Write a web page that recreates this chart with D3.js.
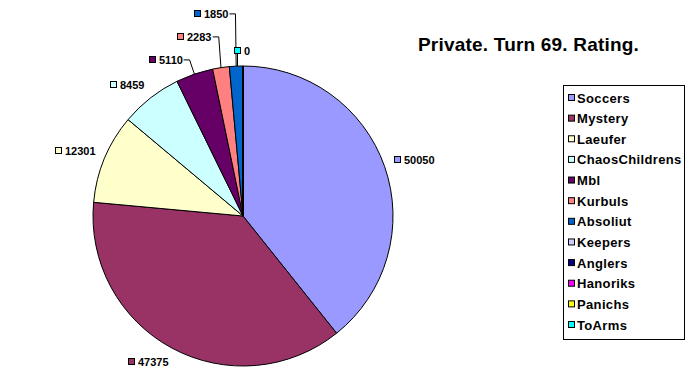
<html>
<head>
<script src="https://d3js.org/d3.v7.min.js"></script>
<style>
body { margin: 0; background: #fff; }
text { font-family: "Liberation Sans", Arial, sans-serif; font-weight: bold; fill: #000; }
</style>
</head>
<body>
<svg width="696" height="381"></svg>
<script>
// data
var teams = ["Soccers", "Mystery", "Laeufer", "ChaosChildrens", "Mbl", "Kurbuls",
             "Absoliut", "Keepers", "Anglers", "Hanoriks", "Panichs", "ToArms"];
var ratings = [50050, 47375, 12301, 8459, 5110, 2283, 1850, 0, 0, 0, 0, 0];
var colors = ["#9999FF", "#993366", "#FFFFCC", "#CCFFFF", "#660066", "#FF8080",
              "#0066CC", "#CCCCFF", "#000080", "#FF00FF", "#FFFF00", "#00FFFF"];
var title = "Private. Turn 69. Rating.";

var svg = d3.select("svg");
var cx = 243, cy = 216, R = 150;

function clamp(v) { return Math.max(-1, Math.min(1, v)); }

svg.append("text")
    .attr("x", 418)
    .attr("y", 51)
    .attr("font-size", "19px")
    .attr("letter-spacing", "0.2px")
    .text(title);

var pie = d3.pie().sort(null).value(function(d) { return d; });
var arcs = pie(ratings);
var arc = d3.arc().innerRadius(0).outerRadius(R);

var g = svg.append("g").attr("transform", "translate(" + cx + "," + cy + ")");

g.selectAll("path")
  .data(arcs)
  .enter()
  .append("path")
    .attr("d", arc)
    .attr("fill", function(d, i) { return colors[i]; })
    .attr("stroke", "#000")
    .attr("stroke-width", 1);

// data labels
var total = d3.sum(ratings);
var prevLeftY = null;
arcs.forEach(function(d, i) {
  // zero slices all sit on the same spot, only the last one shows
  if (d.value === 0 && i < arcs.length - 1) return;
  var a = (d.startAngle + d.endAngle) / 2;
  var s = Math.sin(a), c = -Math.cos(a);
  var lab = g.append("g");
  var t = lab.append("text")
      .attr("x", 10)
      .attr("dy", "0.35em")
      .attr("font-size", "11px")
      .text(d.value);
  lab.append("rect")
      .attr("x", 0.5).attr("y", -3.5)
      .attr("width", 6).attr("height", 6)
      .attr("fill", colors[i])
      .attr("stroke", "#000");
  var w = 10 + t.node().getComputedTextLength(), h = 10;
  var bx, by;

  if (d.value / total >= 0.05) {
    var px = (R + 10) * s, py = (R + 10) * c;
    bx = px + w / 2 * clamp(2 * s) - w / 2;
    by = py + h / 2 * clamp(2 * c);
    if (s < 0) prevLeftY = by;
  } else {
    var ax = R * s, ay = R * c;
    var ox = (R + 15) * s, oy = (R + 15) * c;
    if (s < -0.01) {
      by = oy;
      if (prevLeftY !== null && by > prevLeftY - 23) by = prevLeftY - 23;
      prevLeftY = by;
      bx = ox - 7 - w;
      g.append("polyline")
          .attr("points", [[ox - 6, by], [ox, by], [ax, ay]].join(" "))
          .attr("fill", "none")
          .attr("stroke", "#000");
    } else {
      by = oy;
      bx = ox - 9;
      g.append("line")
          .attr("x1", bx + 3.5).attr("y1", by + 3)
          .attr("x2", bx + 3.5).attr("y2", ay)
          .attr("stroke", "#000");
    }
  }
  lab.attr("transform", "translate(" + Math.round(bx) + "," + Math.round(by) + ")");
});

// legend
var legend = svg.append("g");
legend.append("rect")
    .attr("x", 563.5).attr("y", 85.5)
    .attr("width", 121).attr("height", 254)
    .attr("fill", "#fff")
    .attr("stroke", "#000");

var ly = d3.scalePoint().domain(teams).range([98, 325]);

var item = legend.selectAll("g.item")
  .data(teams)
  .enter()
  .append("g")
    .attr("class", "item")
    .attr("transform", function(d) { return "translate(568," + ly(d) + ")"; });

item.append("rect")
    .attr("x", 0.5).attr("y", -3.5)
    .attr("width", 6).attr("height", 6)
    .attr("fill", function(d, i) { return colors[i]; })
    .attr("stroke", "#000");

item.append("text")
    .attr("x", 9)
    .attr("dy", "0.35em")
    .attr("font-size", "13px")
    .attr("letter-spacing", "0.35px")
    .text(function(d) { return d; });
</script>
</body>
</html>
